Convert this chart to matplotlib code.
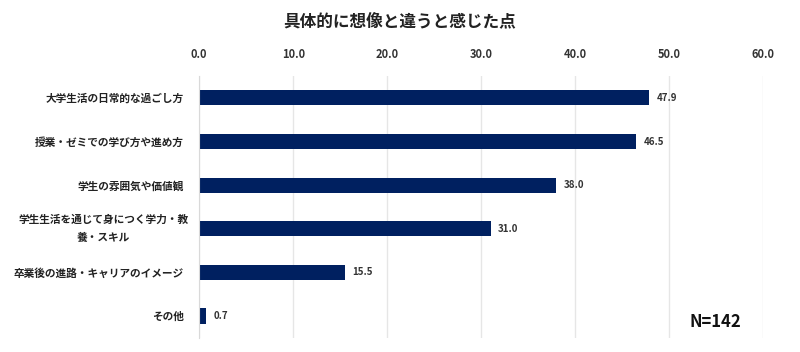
import matplotlib
matplotlib.use("Agg")
import matplotlib.pyplot as plt
import matplotlib.transforms as mtransforms

plt.rcParams['font.family'] = ['Noto Sans CJK JP', 'DejaVu Sans']

categories = ["大学生活の日常的な過ごし方", "授業・ゼミでの学び方や進め方", "学生の雰囲気や価値観",
              "学生生活を通じて身につく学力・教\n養・スキル", "卒業後の進路・キャリアのイメージ", "その他"]
values = [47.9, 46.5, 38.0, 31.0, 15.5, 0.7]
ticks = [0, 10, 20, 30, 40, 50, 60]
title = "具体的に想像と違うと感じた点"
note = "N=142"

fig = plt.figure(figsize=(8, 3.52), dpi=100)
ax = fig.add_axes([0.249, 0.040, 0.705, 0.744])
ypos = list(range(len(categories)))
ax.barh(ypos, values, height=0.35, color="#002060", zorder=3)
ax.set_ylim(len(categories) - 0.5, -0.5)
ax.set_xlim(0, 60)
ax.set_xticks(ticks)
ax.set_xticklabels([f"{t:.1f}" for t in ticks], fontsize=8, fontweight="bold", color="#333333")
ax.xaxis.tick_top()
ax.tick_params(axis="x", length=0, pad=11)
ax.set_yticks(ypos)
ax.set_yticklabels(["" if "\n" in c else c for c in categories], fontsize=7.7, fontweight="bold",
                   color="#222222")
ax.tick_params(axis="y", length=0, pad=11)
trans = mtransforms.offset_copy(ax.get_yaxis_transform(), fig=fig, x=-11, y=0, units="dots")
for y, c in zip(ypos, categories):
    if "\n" in c:
        ax.text(0, y, c, transform=trans, ha="right", va="center", multialignment="center",
                linespacing=1.9, fontsize=7.7, fontweight="bold", color="#222222")
ax.grid(axis="x", color="#e6e6e6", linewidth=1, zorder=0)
for s in ["top", "right", "bottom"]:
    ax.spines[s].set_visible(False)
ax.spines["left"].set_color("#d9d9d9")
ax.spines["left"].set_zorder(4)
for y, v in zip(ypos, values):
    ax.text(v + 0.8, y, f"{v:.1f}", va="center", ha="left", fontsize=7, fontweight="bold", color="#333333")
fig.text(0.5, 0.94, title, ha="center", va="center", fontsize=12, fontweight="bold", color="#222222")
fig.text(0.894, 0.085, note, ha="center", va="center", fontsize=12, fontweight="bold", color="#111111")
fig.savefig("out.png", dpi=100)
